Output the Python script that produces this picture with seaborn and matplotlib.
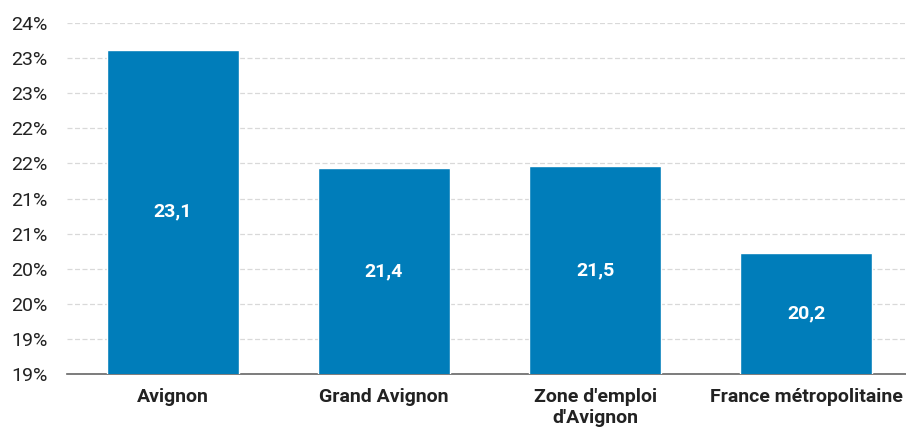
import pandas as pd
import matplotlib.pyplot as plt
import matplotlib.ticker as mticker
import seaborn as sns

plt.switch_backend('Agg')

# --- données ---
territoires = ["Avignon", "Grand Avignon", "Zone d'emploi\nd'Avignon", "France métropolitaine"]
valeurs = [23.12, 21.43, 21.46, 20.22]
ticks_y = [18.5, 19.0, 19.5, 20.0, 20.5, 21.0, 21.5, 22.0, 22.5, 23.0, 23.5]
labels_y = ["19%", "19%", "20%", "20%", "21%", "21%", "22%", "22%", "23%", "23%", "24%"]

BLEU = "#007DBA"

sns.set_style("white")
plt.rcParams['font.family'] = ['Roboto', 'DejaVu Sans']

df = pd.DataFrame({"territoire": territoires, "valeur": valeurs})
# format français : virgule décimale
etiquettes = [f"{v:.1f}".replace(".", ",") for v in valeurs]

fig = plt.figure(figsize=(9.06, 4.30), dpi=100)
ax = fig.add_axes([67 / 906, 1 - 374 / 430, 845 / 906, (374 - 23) / 430])

sns.barplot(data=df, x="territoire", y="valeur", color=BLEU, saturation=1,
            width=0.625, ax=ax, zorder=3)

ax.set_ylim(18.5, 23.5)
ax.set_xlim(-0.5, 3.5)
ax.set_yticks(ticks_y)
ax.set_yticklabels(labels_y)
ax.yaxis.grid(True, linestyle=(0, (4, 2)), color="#d9d9d9", linewidth=0.9, zorder=0)
ax.set_axisbelow(True)

# étiquettes dans les barres
ax.bar_label(ax.containers[0], labels=etiquettes, label_type="center",
             color="white", fontsize=14, fontweight="bold")

# axes
for s in ["left", "right", "top"]:
    ax.spines[s].set_visible(False)
ax.spines["bottom"].set_color("#666666")
ax.spines["bottom"].set_linewidth(1.2)
ax.tick_params(axis="y", length=0, pad=14, labelsize=14, labelcolor="#222222")
ax.tick_params(axis="x", which="major", length=0, pad=10, labelsize=14)
for lab in ax.get_xticklabels():
    lab.set_fontweight("bold")
    lab.set_color("#222222")
ax.xaxis.set_minor_locator(mticker.FixedLocator([-0.5, 0.5, 1.5, 2.5, 3.5]))
ax.tick_params(axis="x", which="minor", direction="inout", length=12,
               width=1, color="#444444")
ax.set_xlabel("")
ax.set_ylabel("")

fig.savefig("out.png", dpi=100)
